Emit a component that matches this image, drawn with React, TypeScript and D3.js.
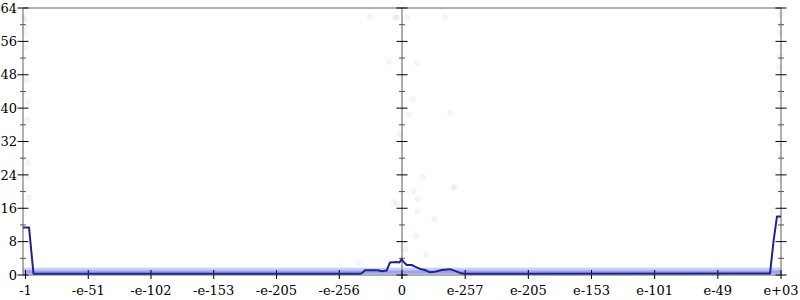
import React from "react";
import * as d3 from "d3";

const W = 800;
const H = 300;

const yTicks = [0, 8, 16, 24, 32, 40, 48, 56, 64];
const yMinorTicks = [4, 12, 20, 28, 36, 44, 52, 60];
const xTickPos = [-6, -5, -4, -3, -2, -1, 0, 1, 2, 3, 4, 5, 6];
const xTickLabels = ["-1", "-e-51", "-e-102", "-e-153", "-e-205", "-e-256", "0", "e-257", "e-205", "e-153", "e-101", "e-49", "e+03"];

// average error line: [position, bits]
const lineX = [-6.04, -5.944, -5.873, -0.669, -0.637, -0.59, -0.382, -0.324, -0.244, -0.191, -0.084, -0.04, -0.008, 0.021, 0.074, 0.154, 0.206, 0.285, 0.364, 0.443, 0.522, 0.628, 0.76, 0.839, 0.918, 0.981, 5.826, 5.881, 5.936, 6.0];
const lineY = [11.4, 11.4, 0.3, 0.3, 0.45, 1.15, 1.15, 0.9, 1.1, 3.0, 3.1, 3.0, 3.8, 3.2, 2.4, 2.4, 2.0, 1.45, 1.2, 0.65, 0.8, 1.2, 1.4, 1.0, 0.5, 0.3, 0.35, 8, 14, 14];

// sparse high-error sample points
const outlierX = [
  -6.03, -6.02, -6.01, -6.01, -5.99, -5.98, -5.97, -5.97, -5.96, -5.97, -5.95,
  5.99, 5.99, 5.99, 5.99, 5.98, 5.98, 5.98, 5.97, 5.98, 5.97, 5.97,
  -0.51, -0.11, -0.08, 0.08, 0.68, -0.21, 0.24, 0.17, 0.11, 0.76, -0.03, 0.33, 0.84, 0.81, 0.19, 0.25, -0.13, -0.08, 0.24, 0.51, 0.22, 0.05, 0.38, -0.7,
];
const outlierY = [
  61.8, 61.1, 59.4, 58.0, 54.6, 46.7, 41.5, 37.2, 26.9, 23.5, 18.5,
  62.3, 59.9, 58.0, 54.6, 52.7, 49.9, 43.1, 36.0, 31.6, 28.8, 22.8,
  61.8, 61.8, 61.8, 61.8, 61.8, 51.1, 50.8, 42.2, 38.4, 38.8, 33.8, 23.5, 21.1, 20.9, 20.1, 18.2, 17.5, 17.0, 15.3, 13.4, 9.3, 6.2, 5.0, 2.9,
];

// dense low-error sample band: [start, end, low, high]
const bandStart = [-6.04];
const bandEnd = [6.0];
const bandOuterLow = [0.2];
const bandOuterHigh = [1.75];
const bandInnerLow = [0.35];
const bandInnerHigh = [1.1];

const FONT = "'DejaVu Serif', serif";

export default function App() {
  const x = d3.scaleLinear().domain([-6.04, 0, 6]).range([23, 402, 781]);
  const y = d3.scaleLinear().domain([0, 64]).range([275, 8]);
  const x0 = x(-6.04);
  const x1 = x(6);
  const xc = x(0);

  const line = d3
    .line<number>()
    .x((_, i) => x(lineX[i]))
    .y((d) => y(d));

  const axisGray = "#b0b0b0";

  const vTicks = (cx: number, key: string) => (
    <g key={key}>
      {yTicks.map((t) => (
        <line key={"M" + t} x1={cx - 5.5} x2={cx + 5.5} y1={y(t)} y2={y(t)} stroke="#000" strokeWidth={1} />
      ))}
      {yMinorTicks.map((t) => (
        <line key={"m" + t} x1={cx - 3} x2={cx + 3} y1={y(t)} y2={y(t)} stroke="#555" strokeWidth={1} />
      ))}
    </g>
  );

  return (
    <svg width={W} height={H} style={{ position: "absolute", left: 0, top: 0, background: "#fff" }}>
      <line x1={x0} x2={x1} y1={y(64)} y2={y(64)} stroke={axisGray} strokeWidth={2} />
      <line x1={x0} x2={x1} y1={y(0)} y2={y(0)} stroke={axisGray} strokeWidth={2} />
      <line x1={x0} x2={x0} y1={y(64)} y2={y(0)} stroke={axisGray} strokeWidth={2} />
      <line x1={x1} x2={x1} y1={y(64)} y2={y(0)} stroke={axisGray} strokeWidth={2} />
      <line x1={xc} x2={xc} y1={y(64)} y2={y(0) + 4} stroke="#808080" strokeWidth={1.3} />

      {bandStart.map((s, i) => (
        <g key={"b" + i}>
          <rect x={x(s)} width={x(bandEnd[i]) - x(s)} y={y(bandOuterHigh[i])} height={y(bandOuterLow[i]) - y(bandOuterHigh[i])} fill="rgb(120,125,235)" fillOpacity={0.38} />
          <rect x={x(s)} width={x(bandEnd[i]) - x(s)} y={y(bandInnerHigh[i])} height={y(bandInnerLow[i]) - y(bandInnerHigh[i])} fill="rgb(90,95,230)" fillOpacity={0.4} />
        </g>
      ))}

      {outlierX.map((v, i) => (
        <circle key={"o" + i} cx={x(v)} cy={y(outlierY[i])} r={2.5} fill="rgb(110,110,255)" fillOpacity={0.06} stroke="rgb(110,110,255)" strokeOpacity={0.1} strokeWidth={0.8} />
      ))}

      {vTicks(x0, "L")}
      {vTicks(xc, "C")}
      {vTicks(x1, "R")}

      {xTickPos.map((t) => (
        <line key={"x" + t} x1={x(t)} x2={x(t)} y1={y(0) - 5} y2={y(0) + 4} stroke="#000" strokeWidth={1} />
      ))}

      <path d={line(lineY) || ""} fill="none" stroke="#22228c" strokeWidth={2} strokeLinejoin="round" />

      {yTicks.map((t) => (
        <text key={"yl" + t} x={17} y={y(t)} dy="0.36em" textAnchor="end" fontFamily={FONT} fontSize={13} fill="#000">
          {t}
        </text>
      ))}
      {xTickPos.map((t, i) => (
        <text key={"xl" + t} x={x(t)} y={294.5} textAnchor="middle" fontFamily={FONT} fontSize={13} fill="#000">
          {xTickLabels[i]}
        </text>
      ))}
    </svg>
  );
}
